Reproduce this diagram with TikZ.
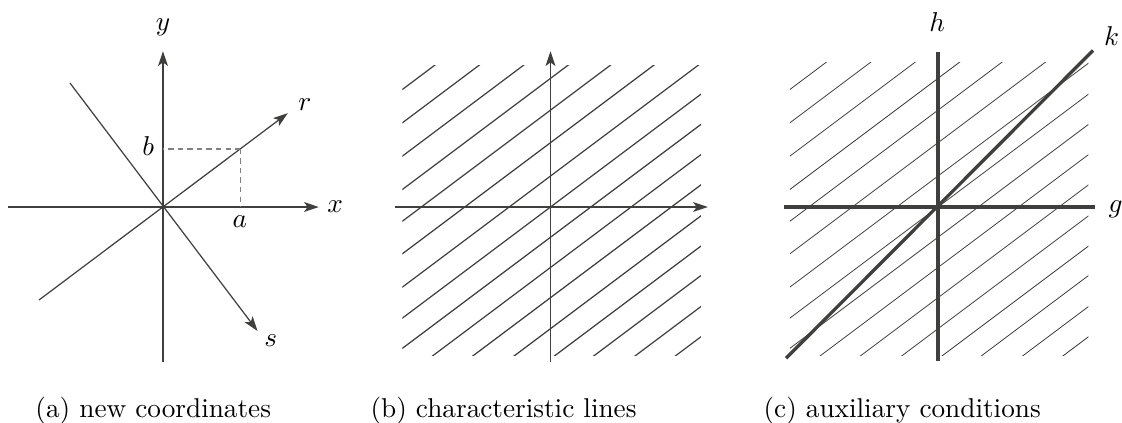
\documentclass[tikz,border=0pt]{standalone}
\usepackage{xcolor}
\usepackage{amsmath}
\usetikzlibrary{arrows.meta, calc}

\definecolor{ink}{HTML}{3F403D}

\begin{document}
\begin{tikzpicture}[
    >={Stealth[length=5.4pt, width=3.6pt, inset=1.3pt]},
    axis/.style={->, draw=ink, line width=0.45pt},
    ray/.style={draw=ink, line width=0.45pt},
    guide/.style={draw=black!50, line width=0.45pt, dash pattern=on 2pt off 1.5pt},
    hatch/.style={draw=ink, line width=0.45pt},
    finehatch/.style={draw=ink, line width=0.3pt},
    bold/.style={draw=ink, line width=1.2pt},
    tag/.style={inner sep=0pt},
    subcap/.style={anchor=base west, inner sep=0pt}
]
\useasboundingbox (-2.103,-2.774) rectangle (12.374,2.671);

% (a) new coordinates
\coordinate (oa) at (0,0);
\coordinate (xl) at (-2,0);
\coordinate (xr) at (2.01,0);
\coordinate (yb) at (0,-2);
\coordinate (yt) at (0,2.01);
\coordinate (rs) at (-1.6,-1.2);
\coordinate (re) at (1.61,1.21);
\coordinate (ss) at (-1.2,1.6);
\coordinate (se) at (1.22,-1.6);
\coordinate (pab) at (1,0.75);
\draw[axis] (xl) -- (xr);
\draw[axis] (yb) -- (yt);
\draw[ray, ->] (rs) -- (re);
\draw[ray, ->] (ss) -- (se);
\draw[guide] (pab) -- (pab |- oa);
\draw[guide] (pab) -- (pab -| oa);
\node[tag] (ly) at (0,2.32) {$y$};
\node[tag] (lx) at (2.22,0) {$x$};
\node[tag] (lr) at (1.83,1.32) {$r$};
\node[tag] (ls) at (1.39,-1.73) {$s$};
\node[tag] (lb) at (-0.19,0.79) {$b$};
\node[tag] (la) at (0.99,-0.19) {$a$};

% (b) characteristic lines
\begin{scope}[xshift=5cm]
    \coordinate (ob) at (0,0);
    \coordinate (bxl) at (-2,0);
    \coordinate (bxr) at (2.03,0);
    \coordinate (byb) at (0,-2);
    \coordinate (byt) at (0,2.01);
    \begin{scope}
        \clip (-1.91,-1.91) rectangle (1.94,1.83);
        \foreach \c in {2.95,2.52,2.09,1.66,1.25,0.83,0.4,0,-0.39,-0.78,-1.17,-1.57,-1.96,-2.34,-2.74,-3.13}
            \draw[hatch] ({-3},{\c-2.25}) -- ({3},{\c+2.25});
    \end{scope}
    \draw[axis] (bxl) -- (bxr);
    \draw[axis] (byb) -- (byt);
\end{scope}

% (c) auxiliary conditions
\begin{scope}[xshift=10cm]
    \coordinate (oc) at (0,0);
    \coordinate (gl) at (-1.99,0);
    \coordinate (gr) at (2.02,0);
    \coordinate (hb) at (0,-1.99);
    \coordinate (ht) at (0,2.0);
    \coordinate (kb) at (-1.96,-1.95);
    \coordinate (kt) at (2.0,2.02);
    \begin{scope}
        \clip (-1.91,-1.91) rectangle (1.94,1.87);
        \foreach \c in {2.95,2.52,2.09,1.66,1.25,0.83,0.4,0,-0.39,-0.78,-1.17,-1.57,-1.96,-2.34,-2.74,-3.13}
            \draw[finehatch] ({-3},{\c-2.25}) -- ({3},{\c+2.25});
    \end{scope}
    \draw[bold] (gl) -- (gr);
    \draw[bold] (hb) -- (ht);
    \draw[bold] (kb) -- (kt);
    \node[tag] (lh) at (-0.01,2.39) {$h$};
    \node[tag] (lk) at (2.24,2.21) {$k$};
    \node[tag] (lg) at (2.29,-0.03) {$g$};
\end{scope}

\node[subcap] (capa) at (-1.652,-2.71) {(a) new coordinates};
\node[subcap] (capb) at (2.671,-2.71) {(b) characteristic lines};
\node[subcap] (capc) at (7.742,-2.71) {(c) auxiliary conditions};
\end{tikzpicture}
\end{document}
